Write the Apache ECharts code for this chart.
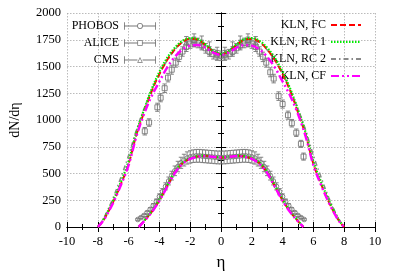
<!DOCTYPE html>
<html><head><meta charset="utf-8">
<script src="https://cdn.jsdelivr.net/npm/echarts@6/dist/echarts.min.js"></script>
<style>html,body{margin:0;padding:0;background:#fff}#c{width:395px;height:276px}</style>
</head><body><div id="c"></div>
<script>
// ---- model curves: upper group (LHC) ----
const etaU = [-8,-7.75,-7.5,-7,-6.5,-6,-5.5,-5,-4.5,-4,-3.5,-3,-2.5,-2,-1.5,-1,-0.5,0,0.5,1,1.5,2,2.5,3,3.5,4,4.5,5,5.5,6,6.5,7,7.5,7.75,8];
const fcU  = [0,40,95,235,400,590,860,1070,1270,1430,1560,1660,1730,1760,1750,1700,1640,1615,1640,1700,1750,1760,1730,1660,1560,1430,1270,1070,860,590,400,235,95,40,0];
const rc1U = [0,45,105,250,420,615,880,1095,1290,1450,1580,1675,1740,1765,1755,1705,1645,1618,1645,1705,1755,1765,1740,1675,1580,1450,1290,1095,880,615,420,250,105,45,0];
const rc2U = [0,50,115,275,465,670,905,1105,1280,1430,1555,1655,1725,1755,1750,1700,1640,1612,1640,1700,1750,1755,1725,1655,1555,1430,1280,1105,905,670,465,275,115,50,0];
const cfU  = [0,40,92,228,392,578,845,1055,1225,1360,1490,1590,1660,1695,1700,1675,1630,1608,1630,1675,1700,1695,1660,1590,1490,1360,1225,1055,845,578,392,228,92,40,0];
// ---- model curves: lower group (RHIC) ----
const etaL = [-5.35,-5,-4.5,-4,-3.5,-3,-2.5,-2,-1.5,-1,-0.5,0,0.5,1,1.5,2,2.5,3,3.5,4,4.5,5,5.35];
const fcL  = [0,55,140,250,380,510,595,640,660,665,655,650,655,665,660,640,595,510,380,250,140,55,0];
const rc1L = [0,58,145,258,388,518,602,645,663,667,657,652,657,667,663,645,602,518,388,258,145,58,0];
const rc2L = [0,62,152,268,398,525,605,645,662,665,655,648,655,665,662,645,605,525,398,268,152,62,0];
const cfL  = [0,52,137,245,375,505,590,636,657,664,656,652,656,664,657,636,590,505,375,245,137,52,0];
// ---- data: PHOBOS (lower) ----
const phobosEta = [-5.4,-5.2,-5.0,-4.8,-4.6,-4.4,-4.2,-4.0,-3.8,-3.6,-3.4,-3.2,-3.0,-2.8,-2.6,-2.4,-2.2,-2.0,-1.8,-1.6,-1.4,-1.2,-1.0,-0.8,-0.6,-0.4,-0.2,0,0.2,0.4,0.6,0.8,1.0,1.2,1.4,1.6,1.8,2.0,2.2,2.4,2.6,2.8,3.0,3.2,3.4,3.6,3.8,4.0,4.2,4.4,4.6,4.8,5.0,5.2,5.4];
const phobosVal = [70,88,108,135,165,200,240,285,330,380,430,480,525,565,600,625,645,655,662,665,665,662,660,657,655,652,650,650,650,652,655,657,660,662,665,665,662,655,645,625,600,565,525,480,430,380,330,285,240,200,165,135,108,88,70];
const phobosErr = [8,9,10,12,15,18,21,25,29,33,37,41,45,49,52,55,57,58,59,60,60,60,60,60,60,60,60,60,60,60,60,60,60,60,60,60,59,58,57,55,52,49,45,41,37,33,29,25,21,18,15,12,10,9,8];
// ---- data: ALICE (upper) ----
const aliceEta = [-4.95,-4.67,-4.13,-3.92,-3.66,-3.44,-3.2,-2.94,-2.72,-2.5,-2.25,-2.0,-1.75,-1.5,-1.25,-1.0,-0.75,-0.5,-0.25,0,0.25,0.5,0.75,1.0,1.25,1.5,1.75,2.0,2.25,2.5,2.72,2.94,3.2,3.42,3.74,4.0,4.35,4.6,4.89,5.19,5.36];
const aliceVal = [895,976,1119,1208,1297,1396,1470,1536,1590,1640,1685,1715,1730,1720,1700,1670,1640,1615,1605,1600,1605,1615,1640,1670,1700,1720,1730,1715,1685,1640,1590,1536,1446,1387,1223,1149,1045,970,881,777,658];
const aliceErr = [35,35,38,38,40,40,42,42,44,44,45,45,45,45,45,45,45,45,45,45,45,45,45,45,45,45,45,45,45,44,44,42,42,40,40,38,38,35,35,33,33];
// ---- data: CMS (upper) ----
const cmsEta = [-2.25,-1.75,-1.25,-0.75,-0.25,0.25,0.75,1.25,1.75,2.25];
const cmsVal = [1720,1745,1725,1670,1620,1620,1670,1725,1745,1720];
const cmsErr = [60,60,60,60,60,60,60,60,60,60];
// ---- axes ----
const xTicks = {min:-10, max:10, step:2};
const yTicks = {min:0, max:2000, step:250};

const SERIF = "'Liberation Serif', 'DejaVu Serif', serif";
const GREY = '#777';
function pairs(xs, ys){ return xs.map((x,i)=>[x, ys[i]]); }
function triples(xs, ys, es){ return xs.map((x,i)=>[x, ys[i], es[i]]); }

function errRender(shape){
  return function(params, api){
    const x = api.value(0), y = api.value(1), e = api.value(2);
    const c = api.coord([x,y]), lo = api.coord([x,y-e]), hi = api.coord([x,y+e]);
    const cw = 2.2, st = {stroke: GREY, lineWidth: 0.9, fill: 'none'};
    const ch = [
      {type:'line', shape:{x1:c[0],y1:lo[1],x2:c[0],y2:hi[1]}, style:st},
      {type:'line', shape:{x1:c[0]-cw,y1:lo[1],x2:c[0]+cw,y2:lo[1]}, style:st},
      {type:'line', shape:{x1:c[0]-cw,y1:hi[1],x2:c[0]+cw,y2:hi[1]}, style:st}
    ];
    if(shape==='circle') ch.push({type:'circle', shape:{cx:c[0],cy:c[1],r:2.3}, style:st});
    else if(shape==='rect') ch.push({type:'rect', shape:{x:c[0]-2.5,y:c[1]-2.5,width:5,height:5}, style:st});
    else ch.push({type:'polygon', shape:{points:[[c[0]-2.7,c[1]+2.2],[c[0],c[1]-2.8],[c[0]+2.7,c[1]+2.2]]}, style:st});
    return {type:'group', children: ch};
  };
}
function dataSeries(name, xs, ys, es, shape){
  return {name, type:'custom', renderItem: errRender(shape), data: triples(xs,ys,es),
          encode:{x:0, y:1}, itemStyle:{color:GREY}, z:3, clip:true};
}
function lineSeries(name, xs, ys, color, width, dash, z){
  return {name, type:'line', data: pairs(xs,ys), smooth:0.35, showSymbol:false, symbol:'none',
          lineStyle:{color, width, type: dash}, itemStyle:{color}, z, silent:true, animation:false};
}

const icPh = 'path://M0,0.5H0.8V7.5H0ZM29.2,0.5H30V7.5H29.2ZM0,3.6H12.6V4.4H0ZM17.4,3.6H30V4.4H17.4ZM12.3,4A2.7,2.7,0,1,1,17.7,4A2.7,2.7,0,1,1,12.3,4ZM13,4A2,2,0,1,0,17,4A2,2,0,1,0,13,4Z';
const icAl = 'path://M0,0.5H0.8V7.5H0ZM29.2,0.5H30V7.5H29.2ZM0,3.6H12.6V4.4H0ZM17.4,3.6H30V4.4H17.4ZM12.5,1.5H17.5V6.5H12.5ZM13.2,2.2V5.8H16.8V2.2Z';
const icCm = 'path://M0,0.5H0.8V7.5H0ZM29.2,0.5H30V7.5H29.2ZM0,3.6H12.6V4.4H0ZM17.4,3.6H30V4.4H17.4ZM12.3,6.5L15,1.2L17.7,6.5ZM13.4,5.9L16.6,5.9L15,2.6Z';

const chart = echarts.init(document.getElementById('c'), null, {renderer:'canvas'});
const axisLine = {show:true, lineStyle:{color:'#000', width:1}};
const plain = v => String(v);
chart.setOption({
  animation:false,
  backgroundColor:'#fff',
  textStyle:{fontFamily:SERIF},
  grid:{left:66, right:20, top:13, bottom:39, containLabel:false},
  legend:[
    {orient:'vertical', right:239, top:20, padding:0, align:'right', itemWidth:32, itemHeight:8, itemGap:5,
     textStyle:{fontFamily:SERIF, fontSize:12, color:'#000'},
     data:[{name:'PHOBOS', icon:icPh},{name:'ALICE', icon:icAl},{name:'CMS', icon:icCm}]},
    {orient:'vertical', right:33, top:19, padding:0, align:'right', itemWidth:30, itemHeight:8, itemGap:5,
     textStyle:{fontFamily:SERIF, fontSize:12, color:'#000'},
     itemStyle:{opacity:0},
     data:['KLN, FC','KLN, RC 1','KLN, RC 2','KLN, CF']}
  ],
  xAxis:[
    {type:'value', min:xTicks.min, max:xTicks.max, interval:xTicks.step, name:'η', nameLocation:'middle', nameGap:27,
     nameTextStyle:{fontFamily:SERIF, fontSize:17, color:'#000'},
     axisLine, axisTick:{inside:true, length:5, lineStyle:{color:'#000'}},
     minorTick:{show:true, splitNumber:2, length:3, lineStyle:{color:'#000'}},
     axisLabel:{fontFamily:SERIF, fontSize:12.5, color:'#000', margin:8, formatter:plain},
     splitLine:{show:true, lineStyle:{color:'#aaa', type:[1.5,1.5], width:0.8}}},
    {type:'value', position:'top', min:xTicks.min, max:xTicks.max, interval:xTicks.step,
     axisLine, axisTick:{inside:true, length:5, lineStyle:{color:'#000'}},
     minorTick:{show:true, splitNumber:2, length:3, lineStyle:{color:'#000'}},
     axisLabel:{show:false}, splitLine:{show:false}}
  ],
  yAxis:[
    {type:'value', min:yTicks.min, max:yTicks.max, interval:yTicks.step, name:'dN/dη', nameLocation:'middle', nameGap:45,
     nameTextStyle:{fontFamily:SERIF, fontSize:14, color:'#000'},
     axisLine, axisTick:{inside:true, length:5, lineStyle:{color:'#000'}},
     minorTick:{show:true, splitNumber:2, length:3, lineStyle:{color:'#000'}},
     axisLabel:{fontFamily:SERIF, fontSize:12.5, color:'#000', margin:6, formatter:plain},
     splitLine:{show:true, lineStyle:{color:'#aaa', type:[1.5,1.5], width:0.8}}},
    {type:'value', position:'right', min:yTicks.min, max:yTicks.max, interval:yTicks.step,
     axisLine, axisTick:{inside:true, length:5, lineStyle:{color:'#000'}},
     minorTick:{show:true, splitNumber:2, length:3, lineStyle:{color:'#000'}},
     axisLabel:{show:false}, splitLine:{show:false}}
  ],
  series:[
    dataSeries('PHOBOS', phobosEta, phobosVal, phobosErr, 'circle'),
    dataSeries('ALICE', aliceEta, aliceVal, aliceErr, 'rect'),
    dataSeries('CMS', cmsEta, cmsVal, cmsErr, 'tri'),
    lineSeries('KLN, RC 2', etaU, rc2U, '#888888', 1.5, [5,3,1.5,3], 4),
    lineSeries('KLN, RC 2', etaL, rc2L, '#888888', 1.5, [5,3,1.5,3], 4),
    lineSeries('KLN, FC', etaU, fcU, '#ff0000', 2, [6,3], 5),
    lineSeries('KLN, FC', etaL, fcL, '#ff0000', 2, [6,3], 5),
    lineSeries('KLN, RC 1', etaU, rc1U, '#00ee00', 2.2, [1.5,1.5], 6),
    lineSeries('KLN, RC 1', etaL, rc1L, '#00ee00', 2.2, [1.5,1.5], 6),
    lineSeries('KLN, CF', etaU, cfU, '#ff00ff', 2.5, [8,3,2,3,2,3], 7),
    lineSeries('KLN, CF', etaL, cfL, '#ff00ff', 2.5, [8,3,2,3,2,3], 7)
  ]
});
</script></body></html>
